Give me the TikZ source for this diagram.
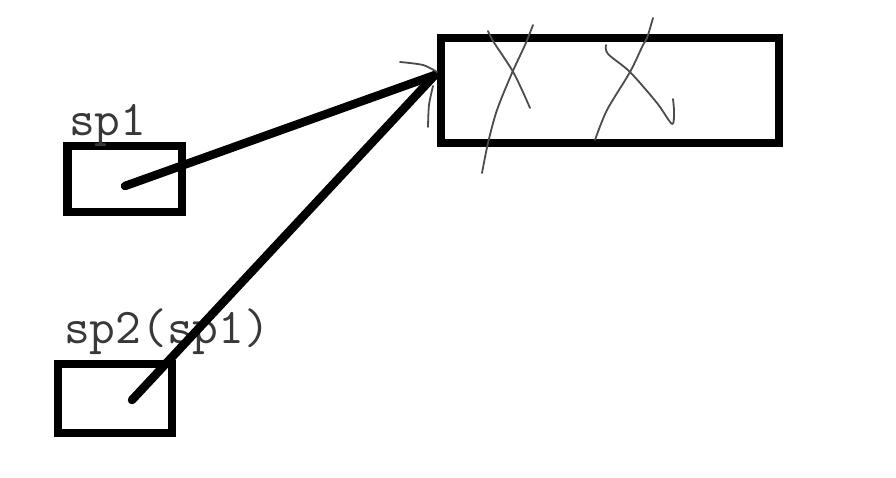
\documentclass[tikz,border=0pt]{standalone}
\usepackage{fontspec}
\begin{document}
\begin{tikzpicture}[x=1pt,y=-1pt,
  thickbox/.style={draw=black,line width=8.5pt,fill=none,inner sep=0pt},
  thickline/.style={draw=black,line width=8.5pt,line cap=round},
  sketch/.style={draw=black!70,line width=1.8pt,line cap=round,line join=round},
  lbl/.style={text=black!78,inner sep=0pt,anchor=base west,font=\fontsize{50}{52}\selectfont\ttfamily}]
\useasboundingbox (0,0) rectangle (896,477);
\fill[white] (0,0) rectangle (896,477);
% boxes
\node[thickbox,minimum width=338pt,minimum height=105pt] (big) at (610,90.5) {};
\node[thickbox,minimum width=114.5pt,minimum height=66pt] (sp1box) at (124.75,179) {};
\node[thickbox,minimum width=114pt,minimum height=69pt] (sp2box) at (115,398.5) {};
% labels
\node[lbl] (sp1lbl) at (69,135) {sp1};
\node[lbl] (sp2lbl) at (64,343) {sp2(sp1)};
% connector points
\coordinate (s1) at (125,186);
\coordinate (s2) at (132,400);
\coordinate (tgt) at (435,75);
\draw[thickline] (s1) -- (tgt);
\draw[thickline] (s2) -- (tgt);
% hand-drawn arrowhead strokes
\draw[sketch] plot[smooth] coordinates {(400,62) (423,65) (437,72)};
\draw[sketch] plot[smooth] coordinates {(433,86) (429,105) (428,127)};
% hand-drawn crosses
\draw[sketch] plot[smooth] coordinates {(488,31) (493,41) (512,70) (522,90) (530,108)};
\draw[sketch] plot[smooth] coordinates {(533,25) (525,45) (512,73) (497,110) (488,143) (482,173)};
\draw[sketch] plot[smooth] coordinates {(653,18) (647,38) (643,45) (630,72) (607,110) (595,140)};
\draw[sketch] plot[smooth] coordinates {(606,45) (608,54) (630,72) (657,103) (672,124) (674,112) (673,99)};
\end{tikzpicture}
\end{document}
